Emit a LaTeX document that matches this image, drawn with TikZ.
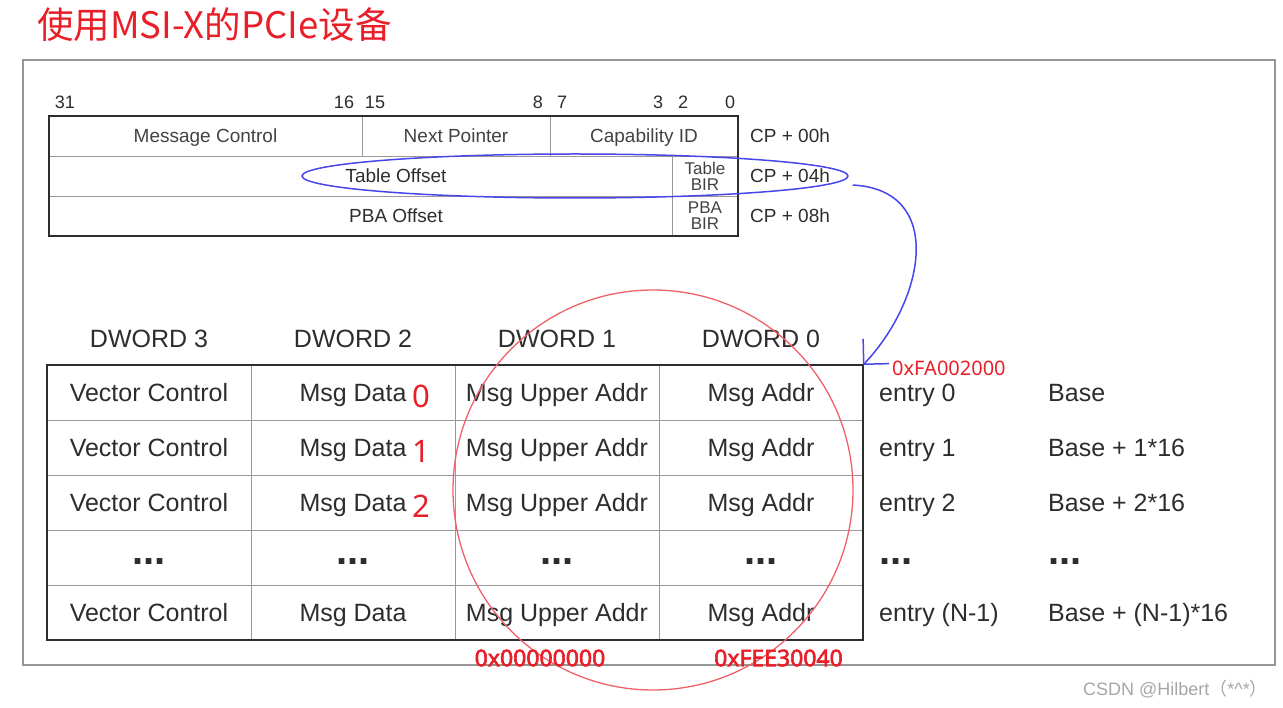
\documentclass[tikz,border=0pt]{standalone}
\usepackage{fontspec}
\setmainfont{Liberation Sans}
\newfontfamily\cjk{Noto Sans CJK SC}
\newfontfamily\hexfont{Noto Sans}
\newfontfamily\hexbold{Noto Sans}[FakeBold=2.5]
\usetikzlibrary{arrows.meta, positioning, shapes.geometric}
\definecolor{notered}{RGB}{232,30,40}
\definecolor{penblue}{RGB}{70,70,235}
\definecolor{ink}{RGB}{45,45,45}
\definecolor{frame}{RGB}{150,150,150}

\begin{document}
\begin{tikzpicture}[
x=1pt, y=-1pt,
node distance = 16pt and 16pt,
cellbox/.style = {draw=gray!80, line width=0.8pt, inner sep=0pt, outer sep=0pt,
                  minimum width=204pt, minimum height=55pt, text=ink},
cell/.style = {cellbox, text height=18pt, text depth=0pt,
               font=\fontsize{25}{28}\selectfont},
dotcell/.style = {cellbox, text height=14pt, text depth=0pt,
                  font=\bfseries\fontsize{40}{40}\selectfont},
reg/.style = {draw=gray!80, line width=0.8pt, inner sep=0pt, outer sep=0pt,
              minimum height=40pt, text=ink!90, text height=13.6pt, text depth=0pt,
              font=\fontsize{19}{21}\selectfont},
bir/.style = {reg, align=center, text height=, text depth=,
              font=\fontsize{17}{16}\selectfont},
bit/.style = {inner sep=0pt, text=ink, font=\fontsize{18}{20}\selectfont},
cp/.style = {inner sep=0pt, text=ink, text height=13.6pt, text depth=0pt,
             font=\fontsize{19}{21}\selectfont},
lbl/.style = {inner sep=0pt, text=ink, text height=18pt, text depth=0pt,
              font=\fontsize{25}{28}\selectfont},
dots/.style = {inner sep=0pt, text=ink, text height=14pt, text depth=0pt,
               font=\bfseries\fontsize{40}{40}\selectfont},
hex/.style = {inner sep=0pt, text=notered, font=\hexfont\fontsize{20}{24}\selectfont},
hexb/.style = {inner sep=0pt, text=notered, font=\hexbold\fontsize{23}{26}\selectfont},
digit/.style = {inner sep=0pt, text=notered, font=\hexfont\fontsize{31}{34}\selectfont},
                        ]
\useasboundingbox (0,0) rectangle (1283,708);
\node (title) [anchor=west, inner sep=0pt, text=notered,
               font=\cjk\fontsize{36.5}{40}\selectfont] at (37,25) {使用MSI-X的PCIe设备};
\draw[frame, line width=1.8pt] (23,60) rectangle (1275,665);

% capability structure
\node (b31) [bit] at (65,102) {31};
\node (b16) [bit] at (344,102) {16};
\node (b15) [bit] at (375,102) {15};
\node (b8)  [bit] at (538,102) {8};
\node (b7)  [bit] at (562,102) {7};
\node (b3)  [bit] at (658,102) {3};
\node (b2)  [bit] at (683,102) {2};
\node (b0)  [bit] at (730,102) {0};

\node (mc) [reg, minimum width=313pt] at (205.5,136) {Message Control};
\node (np) [reg, minimum width=188pt, right=0pt of mc] {Next Pointer};
\node (ci) [reg, minimum width=188pt, right=0pt of np] {Capability ID};
\node (to) [reg, minimum width=623pt] at (360.5,176) {};
\node (tb) [bir, minimum width=66pt, right=0pt of to] {Table\\BIR};
\node (po) [reg, minimum width=623pt] at (360.5,216) {};
\node (pb) [bir, minimum width=66pt, right=0pt of po] {PBA\\BIR};
\draw[ink, line width=1.4pt] (mc.north west) rectangle (pb.south east);
\node (tolbl) [cp] at (396,176) {Table Offset};
\node (polbl) [cp] at (396,216) {PBA Offset};
\node (cp0) [cp, right=12pt of ci] {CP + 00h};
\node (cp4) [cp, right=12pt of tb] {CP + 04h};
\node (cp8) [cp, right=12pt of pb] {CP + 08h};

% MSI-X table
\foreach \r/\y in {0/392.5, 1/447.5, 2/502.5} {
  \node (vc\r) [cell] at (149,\y) {Vector Control};
  \node (md\r) [cell, right=0pt of vc\r] {Msg Data};
  \node (mu\r) [cell, right=0pt of md\r] {Msg Upper Addr};
  \node (ma\r) [cell, right=0pt of mu\r] {Msg Addr};
  \node (en\r) [lbl, anchor=west] at (879,\y) {entry \r};
  \node (dg\r) [digit] at (421,\y+4) {\r};
}
\node (vc3) [dotcell, below=0pt of vc2] {...};
\node (md3) [dotcell, right=0pt of vc3] {...};
\node (mu3) [dotcell, right=0pt of md3] {...};
\node (ma3) [dotcell, right=0pt of mu3] {...};
\node (vc4) [cell, below=0pt of vc3] {Vector Control};
\node (md4) [cell, right=0pt of vc4] {Msg Data};
\node (mu4) [cell, right=0pt of md4] {Msg Upper Addr};
\node (ma4) [cell, right=0pt of mu4] {Msg Addr};
\draw[ink, line width=2pt] (vc0.north west) rectangle (ma4.south east);

\node (dw3) [lbl, above=17pt of vc0] {DWORD 3};
\node (dw2) [lbl, above=17pt of md0] {DWORD 2};
\node (dw1) [lbl, above=17pt of mu0] {DWORD 1};
\node (dw0) [lbl, above=17pt of ma0] {DWORD 0};

\node (en3) [dots, anchor=west] at (879,557.5) {...};
\node (en4) [lbl, anchor=west] at (879,612.5) {entry (N-1)};
\node (ba0) [lbl, anchor=west] at (1048,392.5) {Base};
\node (ba1) [lbl, anchor=west] at (1048,447.5) {Base + 1*16};
\node (ba2) [lbl, anchor=west] at (1048,502.5) {Base + 2*16};
\node (ba3) [dots, anchor=west] at (1048,557.5) {...};
\node (ba4) [lbl, anchor=west] at (1048,612.5) {Base + (N-1)*16};

% annotations
\node (ring) [ellipse, draw=penblue, line width=1.5pt, inner sep=0pt,
              minimum width=546pt, minimum height=44pt] at (575,176) {};
\draw[penblue, line width=1.5pt, -{Straight Barb[length=18pt, width=36pt]}]
  ([shift={(4,9)}]ring.east) .. controls +(93,5) and +(62,-65) .. (ma0.north east);
\node (tbladdr) [hex, anchor=west] at (892,368) {0xFA002000};
\node (focus) [circle, draw=notered!70, line width=1.3pt, inner sep=0pt,
               minimum size=400pt] at (653,490) {};
\node (upaddr) [hexb] at (540,658) {0x00000000};
\node (loaddr) [hexb] at (778.5,658) {0xFEE30040};

\node (mark) [anchor=east, inner sep=0pt, text=gray!70, font=\fontsize{18}{20}\selectfont]
  at (1268,689) {CSDN @Hilbert{\cjk（}*\textasciicircum*{\cjk）}};
\end{tikzpicture}
\end{document}
